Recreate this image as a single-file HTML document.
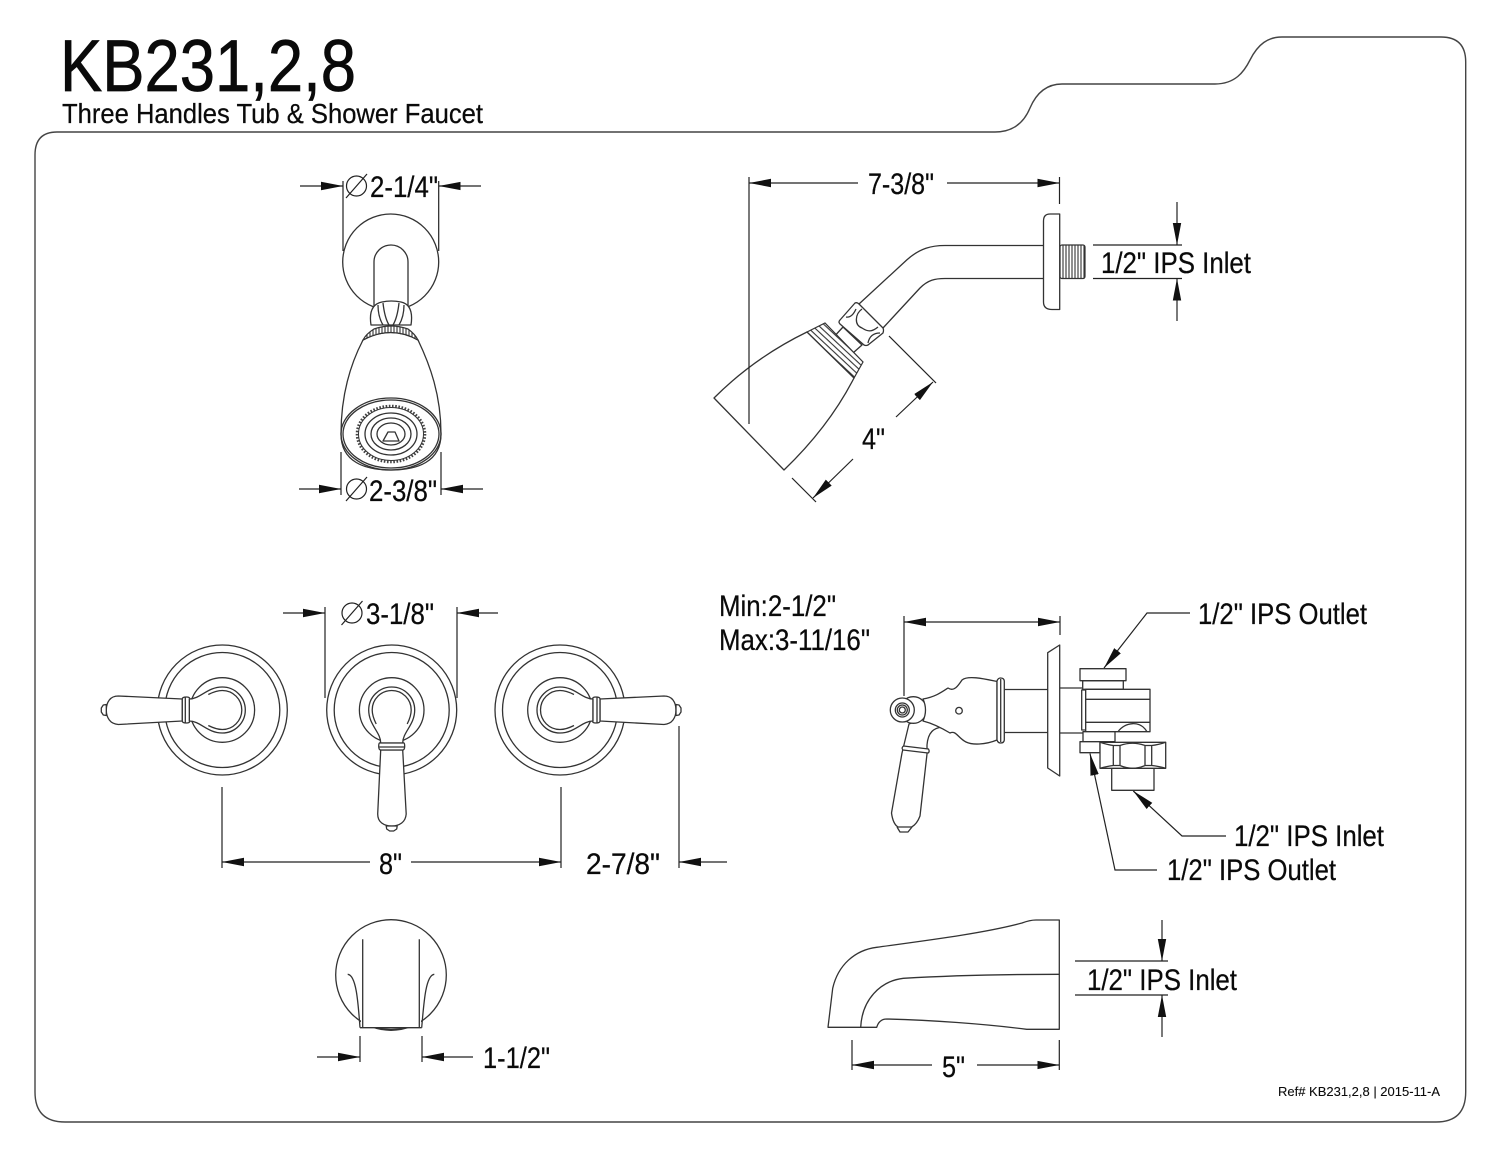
<!DOCTYPE html>
<html><head><meta charset="utf-8">
<style>
html,body{margin:0;padding:0;background:#fff}
svg{display:block}
text{font-family:"Liberation Sans",sans-serif;fill:#0a0a0a;stroke:#0a0a0a;stroke-width:.25}
.d{fill:none;stroke:#333;stroke-width:1.3;stroke-linejoin:round;stroke-linecap:butt}
.w{fill:#fff;stroke:#333;stroke-width:1.3;stroke-linejoin:round}
.l{fill:none;stroke:#222;stroke-width:1.2}
.t{font-size:30px}
</style></head>
<body>
<svg width="1500" height="1159" viewBox="0 0 1500 1159" xmlns="http://www.w3.org/2000/svg">
<defs>
<marker id="a" markerUnits="userSpaceOnUse" markerWidth="24" markerHeight="10" refX="22" refY="5" orient="auto-start-reverse" viewBox="0 0 24 10"><path d="M0,0.8 L22,5 L0,9.2 Z" fill="#111"/></marker>
<pattern id="hv" width="3" height="3" patternUnits="userSpaceOnUse"><rect width="3" height="3" fill="#fff"/><line x1="1" y1="0" x2="1" y2="3" stroke="#333" stroke-width="1.1"/></pattern>
<pattern id="hr" width="4.4" height="4.4" patternUnits="userSpaceOnUse" patternTransform="rotate(43)"><rect width="4.4" height="4.4" fill="#fff"/><line x1="0" y1="1" x2="4.4" y2="1" stroke="#333" stroke-width="1.1"/></pattern>
<g id="h">
<circle class="d" r="65"/><circle class="d" r="57.5"/><circle class="d" r="32.3"/>
<path class="w" d="M-33,-11 C-22,-11 -15,-23 0,-23 A23,23 0 1 1 0,23 C-15,23 -22,11 -33,11 Z"/>
<path class="d" d="M-14,-15.5 C-9,-18 -5,-19.5 0,-19.5 A19.5,19.5 0 1 1 0,19.5 C-5,19.5 -9,18 -14,15.5"/>
<path class="w" d="M-40,-11 L-104,-14 Q-110,-14 -113,-10 Q-116,-6 -116,0 Q-116,6 -113,10 Q-110,14 -104,14.5 L-40,11 Z"/>
<path class="w" d="M-33,-11 Q-32,-13 -36,-13 Q-40,-13 -40,-11 L-40,11 Q-40,13 -36,13 Q-32,13 -33,11 Z"/>
<line class="d" x1="-37" y1="-12.5" x2="-37" y2="12.5"/>
<path class="w" d="M-116,-5.5 L-119,-5 L-121,-2 L-121,2 L-119,5 L-116,5.5 Z"/>
</g>
</defs>
<rect width="1500" height="1159" fill="#fff"/>

<!-- frame -->
<path d="M57,132 L995,132 C1015,132 1025,120 1030,108 C1036,94 1046,84 1062,84 L1215,84 C1235,84 1244,72 1250,60 C1258,44 1268,37 1282,37 L1441,37 Q1465.7,37 1465.7,62 L1465.7,1092 Q1465.7,1122 1436,1122 L65,1122 Q35,1122 35,1092 L35,155 Q35,132 57,132 Z" fill="none" stroke="#444" stroke-width="1.4"/>

<!-- titles -->
<text x="60" y="91" font-size="73" textLength="296" lengthAdjust="spacingAndGlyphs" style="stroke-width:.7">KB231,2,8</text>
<text x="62" y="123" font-size="28" textLength="421" lengthAdjust="spacingAndGlyphs">Three Handles Tub &amp; Shower Faucet</text>
<text x="1278" y="1096" font-size="13" textLength="162" lengthAdjust="spacingAndGlyphs" style="stroke-width:.1">Ref# KB231,2,8 | 2015-11-A</text>

<!-- shower head front -->
<circle class="d" cx="390.7" cy="262" r="48"/>
<path class="w" d="M374,306 L374,262 A17,17 0 0 1 408,262 L408,306"/>
<path class="w" d="M371,325 C369,312 372,304 382,302 Q391,300 401,302 C410,304 413,312 411,325 Z"/>
<path class="d" d="M383,303 C384,312 386,320 389,325 M399,303 C398,312 396,320 393,325 M378,305 C378,314 380,320 383,325 M404,305 C404,314 402,320 399,325"/>
<path class="w" d="M363,340 C350,365 341,395 341,434 C341,462 365,470 391,470 C417,470 441,462 441,434 C441,395 430,365 418,340 Q391,325 363,340 Z"/>
<path d="M363,340 Q366,334 374,329 Q391,323 408,329 Q415,334 418,340 Q391,325 363,340 Z" fill="url(#hv)" stroke="#333" stroke-width="1.2"/>
<ellipse class="d" cx="391" cy="434" rx="50" ry="36"/>
<ellipse class="d" cx="391" cy="434" rx="48" ry="34"/>
<ellipse cx="391" cy="434" rx="34" ry="28" fill="none" stroke="#444" stroke-width="2.6" stroke-dasharray="1.6 1.6"/>
<ellipse class="d" cx="391" cy="434" rx="32.500" ry="26.500" style="stroke-width:1"/>
<ellipse class="d" cx="391" cy="434" rx="26" ry="21"/>
<ellipse class="d" cx="391" cy="434" rx="20" ry="16"/>
<ellipse class="d" cx="391" cy="434" rx="14" ry="11"/>
<path class="d" d="M388,432 L395,432 L399,441 L383,441 Z"/>

<!-- front dims -->
<line class="l" x1="343" y1="181" x2="343" y2="251"/>
<line class="l" x1="438.7" y1="181" x2="438.7" y2="251"/>
<line class="l" x1="300" y1="186" x2="343" y2="186" marker-end="url(#a)"/>
<line class="l" x1="481" y1="186" x2="438.7" y2="186" marker-end="url(#a)"/>
<circle class="l" cx="356.5" cy="186" r="10"/><line class="l" x1="346" y1="198" x2="367" y2="174"/>
<text class="t" x="370" y="197" textLength="68" lengthAdjust="spacingAndGlyphs">2-1/4"</text>
<line class="l" x1="341" y1="452" x2="341" y2="495"/>
<line class="l" x1="441" y1="452" x2="441" y2="495"/>
<line class="l" x1="299" y1="489" x2="341" y2="489" marker-end="url(#a)"/>
<line class="l" x1="483" y1="489" x2="441" y2="489" marker-end="url(#a)"/>
<circle class="l" cx="356.5" cy="489" r="10"/><line class="l" x1="346" y1="501" x2="367" y2="477"/>
<text class="t" x="369" y="501" textLength="68" lengthAdjust="spacingAndGlyphs">2-3/8"</text>

<!-- shower head side -->
<rect x="1060" y="245" width="25" height="33.5" rx="2" fill="url(#hv)" stroke="#333" stroke-width="1.2"/>
<path class="w" d="M1059.7,214 L1050,214 Q1043.5,214 1043.5,221 L1043.5,302 Q1043.5,309.5 1052,309.5 L1059.7,309.5 Z"/>
<path class="d" d="M1043.5,245.5 L945,245.5 C932,245.5 920,248 906.7,260 L859,304"/>
<path class="d" d="M1043.5,278.5 L945,278.5 C935,278.5 928,280 920,288 L883,328"/>
<path class="w" d="M843,327 L820,352 L836,368 L862,345 Z"/>
<path class="w" d="M840,320 L855,303 Q857,302 859,304 L883,328 Q884,330 883,333 L868,345 Q866,346 864,345 L840,324 Q838,322 840,320 Z"/>
<path class="d" d="M862,309 C855,314 854,325 862,328 C868,332 872,332 878,327 M846,317 Q852,318 856,309 M868,343 Q870,333 880,333"/>
<path d="M807,332 L825,323 L863,362 L854,378 Z" fill="url(#hr)" stroke="#333" stroke-width="1.2"/>
<path class="w" d="M807,332 C770,350 740,372 714,398 L784,470 C810,445 835,415 854,378 Z"/>
<line class="l" x1="749" y1="177" x2="749" y2="424"/>
<line class="l" x1="1059.5" y1="177" x2="1059.5" y2="204"/>
<line class="l" x1="858" y1="183" x2="749" y2="183" marker-end="url(#a)"/>
<line class="l" x1="947" y1="183" x2="1059.5" y2="183" marker-end="url(#a)"/>
<text class="t" x="868" y="194" textLength="66" lengthAdjust="spacingAndGlyphs">7-3/8"</text>
<line class="l" x1="889" y1="336" x2="936" y2="383"/>
<line class="l" x1="792" y1="478" x2="816" y2="502"/>
<line class="l" x1="896" y1="417" x2="933" y2="382" marker-end="url(#a)"/>
<line class="l" x1="853" y1="459" x2="813" y2="498" marker-end="url(#a)"/>
<text class="t" x="862" y="449" textLength="23" lengthAdjust="spacingAndGlyphs">4"</text>
<line class="l" x1="1093" y1="245" x2="1182" y2="245"/>
<line class="l" x1="1093" y1="278.5" x2="1182" y2="278.5"/>
<line class="l" x1="1177" y1="202" x2="1177" y2="245" marker-end="url(#a)"/>
<line class="l" x1="1177" y1="321" x2="1177" y2="278.5" marker-end="url(#a)"/>
<text class="t" x="1101" y="273" textLength="150" lengthAdjust="spacingAndGlyphs">1/2" IPS Inlet</text>

<!-- handles -->
<use href="#h" transform="translate(222.3,710)"/>
<use href="#h" transform="translate(391.7,710) rotate(-90)"/>
<use href="#h" transform="translate(560,710) scale(-1,1)"/>
<line class="l" x1="325" y1="607" x2="325" y2="698"/>
<line class="l" x1="457" y1="607" x2="457" y2="698"/>
<line class="l" x1="283" y1="613" x2="325" y2="613" marker-end="url(#a)"/>
<line class="l" x1="498" y1="613" x2="457" y2="613" marker-end="url(#a)"/>
<circle class="l" cx="352" cy="613" r="10"/><line class="l" x1="341.500" y1="625" x2="362.500" y2="601"/>
<text class="t" x="366" y="624" textLength="68" lengthAdjust="spacingAndGlyphs">3-1/8"</text>
<line class="l" x1="222" y1="787" x2="222" y2="868"/>
<line class="l" x1="561" y1="787" x2="561" y2="868"/>
<line class="l" x1="679" y1="726" x2="679" y2="868"/>
<line class="l" x1="370" y1="862" x2="222" y2="862" marker-end="url(#a)"/>
<line class="l" x1="411" y1="862" x2="561" y2="862" marker-end="url(#a)"/>
<line class="l" x1="727" y1="862" x2="679" y2="862" marker-end="url(#a)"/>
<text class="t" x="379" y="874" textLength="23" lengthAdjust="spacingAndGlyphs">8"</text>
<text class="t" x="586" y="874" textLength="74" lengthAdjust="spacingAndGlyphs">2-7/8"</text>

<!-- valve side -->
<text class="t" x="719" y="616" textLength="117" lengthAdjust="spacingAndGlyphs">Min:2-1/2"</text>
<text class="t" x="719" y="650" textLength="151" lengthAdjust="spacingAndGlyphs">Max:3-11/16"</text>
<line class="l" x1="904" y1="616" x2="904" y2="696"/>
<line class="l" x1="1060" y1="616" x2="1060" y2="635"/>
<line class="l" x1="982" y1="622" x2="904" y2="622" marker-end="url(#a)"/>
<line class="l" x1="982" y1="622" x2="1060" y2="622" marker-end="url(#a)"/>

<!-- lever -->
<path class="w" d="M909,724 L902,753 L891.500,813 Q893,824 898,827 L911.700,827 Q917,824 920,816 L927,754 L927,745 C928,732 934,728 942,727 L924,718 Z"/>
<path class="w" d="M903.500,746 L928.500,749 Q930,752 928,753 L903,750 Q901,748 903.500,746 Z"/>
<path class="d" d="M897,827 L900,832 L908,832 L912,827"/>
<circle class="w" cx="913.300" cy="710" r="13.300"/>
<path class="w" d="M923,699 C935,697 942,692 948,688 C954,692 958,686 962,680 C968,675 985,679 997,681.500 L997,740 C985,745 972,745 966,742 C958,738 956,730 950,733 C945,730 935,724 923,721 Q928,710 923,699 Z"/>
<circle class="d" cx="959" cy="710.700" r="3.300"/>
<path class="w" d="M997,681 Q998,678 1000.500,678 Q1004,678 1004.300,681 L1004.300,740 Q1004,743 1000.500,743 Q998,743 997,740 Z"/>
<line class="d" x1="1000.700" y1="679" x2="1000.700" y2="742"/>
<circle class="w" cx="902.300" cy="710" r="12"/>
<circle class="d" cx="902.300" cy="710" r="7"/>
<circle class="d" cx="902.300" cy="710" r="5"/>
<circle class="d" cx="902.300" cy="710" r="3"/>
<path class="d" d="M1004,689.500 L1047.700,689.500 M1004,732.500 L1047.700,732.500"/>
<path class="w" d="M1047.700,652.700 L1059.700,645 L1059.700,776 L1047.700,768 Z"/>
<path class="d" d="M1059.700,688 L1082,688 M1059.700,733 L1084,733"/>
<rect class="w" x="1081.700" y="690" width="4" height="40"/>
<rect class="w" x="1082.700" y="680.700" width="40.600" height="8.600"/>
<rect class="w" x="1080" y="668.700" width="46" height="12"/>
<rect class="w" x="1085.700" y="689.300" width="64.300" height="42.400"/>
<path class="d" d="M1085.700,699.300 L1150,699.300 M1085.700,722.300 L1150,722.300 M1118,731.700 C1125,722 1140,720 1147,731.700"/>
<rect class="w" x="1083" y="731.700" width="32" height="10"/>
<rect class="w" x="1080" y="741.700" width="20" height="11"/>
<rect class="w" x="1111.700" y="768.300" width="42.300" height="22"/>
<path class="w" d="M1100,742.300 L1165.700,742.300 L1165.700,768.300 L1100,768.300 Z"/>
<path class="d" d="M1100,742.300 Q1108,745 1113.300,745.500 L1113.300,765.500 Q1108,766 1100,768.300 M1120,745.500 Q1132.500,741 1145,745.500 L1145,765.500 Q1132.500,771 1120,765.500 Z M1151.700,745.500 Q1158,745 1165.700,742.300 M1151.700,765.500 Q1158,766 1165.700,768.300 M1113.300,745.500 L1120,745.500 M1113.300,765.500 L1120,765.500 M1145,745.500 L1151.700,745.500 M1145,765.500 L1151.700,765.500 M1151.700,745.500 L1151.700,765.500"/>

<polyline class="l" points="1190,613 1147,613 1104,668" marker-end="url(#a)"/>
<text class="t" x="1198" y="624" textLength="169" lengthAdjust="spacingAndGlyphs">1/2" IPS Outlet</text>
<polyline class="l" points="1226,836 1182,836 1133.300,791" marker-end="url(#a)"/>
<text class="t" x="1234" y="846" textLength="150" lengthAdjust="spacingAndGlyphs">1/2" IPS Inlet</text>
<polyline class="l" points="1157,870 1115,870 1090,753.500" marker-end="url(#a)"/>
<text class="t" x="1167" y="880" textLength="169" lengthAdjust="spacingAndGlyphs">1/2" IPS Outlet</text>

<!-- tub spout front -->
<circle class="d" cx="391" cy="975" r="55.300"/>
<path d="M361,1016 L361,1027 L421,1027 L421,1016 L420,938 L362,938 Z" fill="#fff"/>
<path class="d" d="M360,1027.700 C358,1000 356,975 347.700,974.300 M421.700,1027.700 C424,1000 426,975 434.300,974.300"/>
<path class="d" d="M360,1027.700 L421.700,1027.700 M362.700,939.300 L362.700,1027.700 M419.300,939.300 L419.300,1027.700"/>
<path class="d" d="M377,1027.700 Q391,1031 405,1027.700"/>
<line class="l" x1="360" y1="1036" x2="360" y2="1062"/>
<line class="l" x1="422" y1="1036" x2="422" y2="1062"/>
<line class="l" x1="317" y1="1057" x2="360" y2="1057" marker-end="url(#a)"/>
<line class="l" x1="473" y1="1057" x2="422" y2="1057" marker-end="url(#a)"/>
<text class="t" x="483" y="1068" textLength="67" lengthAdjust="spacingAndGlyphs">1-1/2"</text>

<!-- tub spout side -->
<path class="d" d="M828,1027.300 L832.700,988.300 C838,965 855,950 876.700,947.300 C930,940 985,933 1022,923 Q1030,920 1036,920 L1059.300,920 L1059.300,1029.300 L1026.700,1029.300 C985,1024 930,1020 886.700,1019 C881,1019 878,1023 876.700,1027.300 Z"/>
<path class="d" d="M860.700,1027.300 C862,1000 880,981 903.300,978.300 C950,975.500 1010,974.300 1059.300,974.300"/>
<line class="l" x1="852" y1="1040" x2="852" y2="1070"/>
<line class="l" x1="1059.300" y1="1040" x2="1059.300" y2="1070"/>
<line class="l" x1="932" y1="1065" x2="852" y2="1065" marker-end="url(#a)"/>
<line class="l" x1="977" y1="1065" x2="1059.300" y2="1065" marker-end="url(#a)"/>
<text class="t" x="942" y="1077" textLength="23" lengthAdjust="spacingAndGlyphs">5"</text>
<line class="l" x1="1075" y1="961" x2="1168" y2="961"/>
<line class="l" x1="1075" y1="995" x2="1168" y2="995"/>
<line class="l" x1="1162" y1="920" x2="1162" y2="961" marker-end="url(#a)"/>
<line class="l" x1="1162" y1="1037" x2="1162" y2="995" marker-end="url(#a)"/>
<text class="t" x="1087" y="990" textLength="150" lengthAdjust="spacingAndGlyphs">1/2" IPS Inlet</text>
</svg>
</body></html>
